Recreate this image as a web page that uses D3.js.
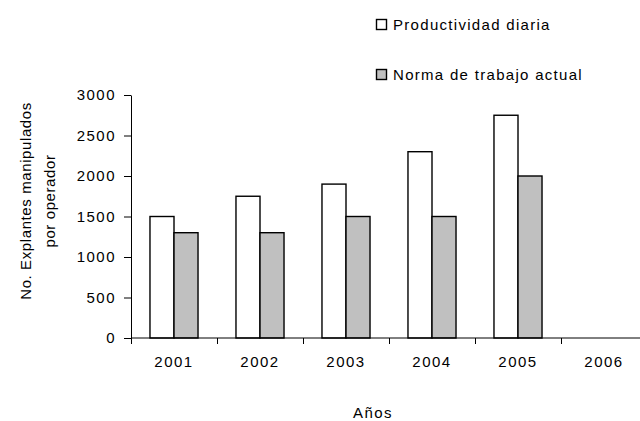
<!DOCTYPE html>
<html>
<head>
<meta charset="utf-8">
<script src="https://cdn.jsdelivr.net/npm/d3@7"></script>
<style>
  body { margin: 0; background: #fff; }
  svg text { font-family: Arial, "Liberation Sans", sans-serif; font-size: 15px; fill: #000; }
</style>
</head>
<body>
<div id="chart"></div>
<script>
// data
var years = ['2001', '2002', '2003', '2004', '2005', '2006']
var series = ['Productividad diaria', 'Norma de trabajo actual']
var productividad = [1500, 1750, 1900, 2300, 2750, null]
var norma = [1300, 1300, 1500, 1500, 2000, null]
var yTicks = [0, 500, 1000, 1500, 2000, 2500, 3000]
var colors = ['#ffffff', '#c0c0c0']

var width = 640, height = 421

var svg = d3.select('#chart').append('svg')
    .attr('width', width).attr('height', height)

var x0 = d3.scaleBand().domain(years).range([131, 647])
var x1 = d3.scaleBand().domain(series).range([0, x0.bandwidth()])
    .paddingInner(0).paddingOuter(0.79)
var y = d3.scaleLinear().domain([0, 3000]).range([338, 95])

// bars
var rows = years.map(function(yr, i) {
    return { year: yr, vals: [productividad[i], norma[i]] }
})
var groups = svg.append('g').selectAll('g')
    .data(rows)
    .join('g')
    .attr('transform', function(d) { return 'translate(' + x0(d.year) + ',0)' })
groups.selectAll('rect')
    .data(function(d) {
        return d.vals.map(function(v, k) { return { s: series[k], v: v, k: k } })
            .filter(function(e) { return e.v != null })
    })
    .join('rect')
    .attr('x', function(d) { return x1(d.s) })
    .attr('y', function(d) { return y(d.v) })
    .attr('width', x1.bandwidth())
    .attr('height', function(d) { return y(0) - y(d.v) })
    .attr('fill', function(d) { return colors[d.k] })
    .attr('stroke', '#000')
    .attr('stroke-width', 1.4)

// y axis
var yAxis = svg.append('g')
    .attr('transform', 'translate(131,0)')
    .call(d3.axisLeft(y).tickValues(yTicks).tickFormat(d3.format('d'))
        .tickSize(7).tickPadding(8).tickSizeOuter(0))
yAxis.attr('font-size', null).attr('font-family', null)
yAxis.select('.domain').attr('stroke', '#000')
yAxis.selectAll('.tick line').attr('stroke', '#000')
yAxis.selectAll('text').style('letter-spacing', '1.5px')

// x axis: ticks at band edges
var xg = svg.append('g')
xg.append('line')
    .attr('x1', 131).attr('x2', width)
    .attr('y1', y(0)).attr('y2', y(0))
    .attr('stroke', '#000')
xg.selectAll('line.tk')
    .data(years)
    .join('line')
    .attr('class', 'tk')
    .attr('x1', function(d) { return Math.round(x0(d)) + 0.5 })
    .attr('x2', function(d) { return Math.round(x0(d)) + 0.5 })
    .attr('y1', y(0)).attr('y2', y(0) + 6)
    .attr('stroke', '#000')
xg.selectAll('text')
    .data(years)
    .join('text')
    .attr('x', function(d) { return x0(d) + x0.bandwidth() / 2 })
    .attr('y', 367)
    .attr('text-anchor', 'middle')
    .style('letter-spacing', '1.5px')
    .text(function(d) { return d })

// axis titles
svg.append('text')
    .attr('x', 373).attr('y', 418)
    .attr('text-anchor', 'middle')
    .style('letter-spacing', '1.5px')
    .text('Años')

var yl = svg.append('text')
    .attr('transform', 'translate(0,201) rotate(-90)')
    .attr('text-anchor', 'middle')
    .style('letter-spacing', '0.6px')
yl.append('tspan').attr('x', 0).attr('y', 31).text('No. Explantes manipulados')
yl.append('tspan').attr('x', 0).attr('y', 55).text('por operador')

// legend
var leg = svg.append('g')
var legY = [19, 69]
series.forEach(function(s, i) {
    leg.append('rect')
        .attr('x', 376.5).attr('y', legY[i] + 0.5)
        .attr('width', 10).attr('height', 10)
        .attr('fill', colors[i])
        .attr('stroke', '#000')
        .attr('stroke-width', 1.4)
    leg.append('text')
        .attr('x', 393).attr('y', legY[i] + 10.5)
        .style('letter-spacing', '1.3px')
        .text(s)
})
</script>
</body>
</html>
